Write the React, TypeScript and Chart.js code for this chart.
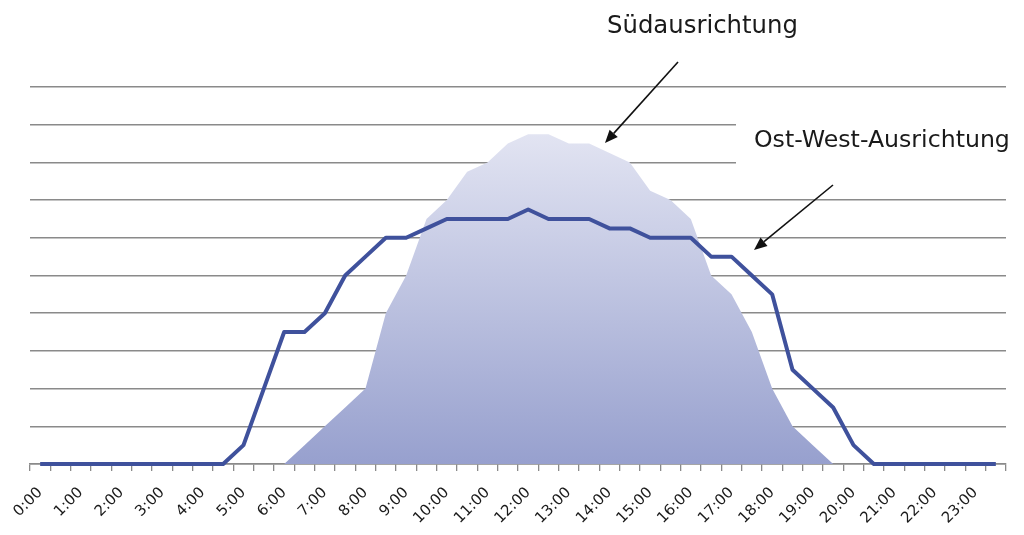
import React, { useEffect, useRef } from "react";
import { Chart, registerables } from "chart.js";

Chart.register(...registerables);

// Half-hour slots of one day
const timeSlots: string[] = [
  "0:00", "0:30", "1:00", "1:30", "2:00", "2:30", "3:00", "3:30",
  "4:00", "4:30", "5:00", "5:30", "6:00", "6:30", "7:00", "7:30",
  "8:00", "8:30", "9:00", "9:30", "10:00", "10:30", "11:00", "11:30",
  "12:00", "12:30", "13:00", "13:30", "14:00", "14:30", "15:00", "15:30",
  "16:00", "16:30", "17:00", "17:30", "18:00", "18:30", "19:00", "19:30",
  "20:00", "20:30", "21:00", "21:30", "22:00", "22:30", "23:00", "23:30",
];

// South-facing yield (area)
const suedValues: number[] = [
  0, 0, 0, 0, 0, 0, 0, 0,
  0, 0, 0, 0, 0, 0.5, 1.0, 1.5,
  2.0, 4.0, 5.0, 6.5, 7.0, 7.75, 8.0, 8.5,
  8.75, 8.75, 8.5, 8.5, 8.25, 8.0, 7.25, 7.0,
  6.5, 5.0, 4.5, 3.5, 2.0, 1.0, 0.5, 0,
  0, 0, 0, 0, 0, 0, 0, 0,
];

// East-west-facing yield (line)
const ostWestValues: number[] = [
  0, 0, 0, 0, 0, 0, 0, 0,
  0, 0, 0.5, 2.0, 3.5, 3.5, 4.0, 5.0,
  5.5, 6.0, 6.0, 6.25, 6.5, 6.5, 6.5, 6.5,
  6.75, 6.5, 6.5, 6.5, 6.25, 6.25, 6.0, 6.0,
  6.0, 5.5, 5.5, 5.0, 4.5, 2.5, 2.0, 1.5,
  0.5, 0, 0, 0, 0, 0, 0, 0,
];

const yMin = 0;
const yMax = 10;
const yStep = 1;

const labelSued = "Südausrichtung";
const labelOstWest = "Ost-West-Ausrichtung";

function drawArrow(ctx: CanvasRenderingContext2D, x1: number, y1: number, x2: number, y2: number) {
  const ang = Math.atan2(y2 - y1, x2 - x1);
  const headLen = 13;
  const headHalf = 5.5;
  const bx = x2 - headLen * Math.cos(ang);
  const by = y2 - headLen * Math.sin(ang);
  ctx.beginPath();
  ctx.moveTo(x1, y1);
  ctx.lineTo(bx, by);
  ctx.strokeStyle = "#111";
  ctx.lineWidth = 1.6;
  ctx.stroke();
  ctx.beginPath();
  ctx.moveTo(x2, y2);
  ctx.lineTo(bx + headHalf * Math.sin(ang), by - headHalf * Math.cos(ang));
  ctx.lineTo(bx - headHalf * Math.sin(ang), by + headHalf * Math.cos(ang));
  ctx.closePath();
  ctx.fillStyle = "#111";
  ctx.fill();
}

function fitText(ctx: CanvasRenderingContext2D, text: string, x: number, y: number, width: number) {
  ctx.font = '24px "DejaVu Sans"';
  const w = ctx.measureText(text).width;
  const size = (24 * width) / w;
  ctx.font = `${size}px "DejaVu Sans"`;
  ctx.fillText(text, x, y);
}

const annotationPlugin = {
  id: "annotations",
  afterDraw(chart: any) {
    const ctx: CanvasRenderingContext2D = chart.ctx;
    ctx.save();
    ctx.fillStyle = "#ffffff";
    ctx.fillRect(736, 106, 288, 72);
    ctx.fillStyle = "#1a1a1a";
    ctx.textAlign = "left";
    ctx.textBaseline = "alphabetic";
    fitText(ctx, labelSued, 607, 33, 191);
    fitText(ctx, labelOstWest, 754, 147, 256);
    drawArrow(ctx, 678, 62, 605, 143);
    drawArrow(ctx, 833, 185, 754, 250);
    ctx.restore();
  },
};

export default function App() {
  const canvasRef = useRef<HTMLCanvasElement | null>(null);

  useEffect(() => {
    if (!canvasRef.current) return;
    const chart = new Chart(canvasRef.current, {
      type: "line",
      data: {
        labels: timeSlots,
        datasets: [
          {
            label: labelOstWest,
            data: ostWestValues,
            borderColor: "#3f519c",
            borderWidth: 4,
            pointRadius: 0,
            tension: 0,
            fill: false,
            order: 0,
            clip: false as any,
            borderJoinStyle: "round",
          },
          {
            label: labelSued,
            data: suedValues,
            borderWidth: 0,
            borderColor: "rgba(0,0,0,0)",
            pointRadius: 0,
            tension: 0,
            fill: "origin",
            order: 1,
            backgroundColor: (c: any) => {
              const ch = c.chart;
              if (!ch.chartArea) return "#b8bedf";
              const ys = ch.scales.y;
              const top = ys.getPixelForValue(Math.max(...suedValues));
              const bottom = ys.getPixelForValue(0);
              const g = ch.ctx.createLinearGradient(0, top, 0, bottom);
              g.addColorStop(0, "#e2e4f2");
              g.addColorStop(1, "#97a0ce");
              return g;
            },
          },
        ],
      },
      options: {
        responsive: false,
        animation: false,
        layout: { padding: { left: 30, right: 18, top: 87, bottom: 0 } },
        plugins: {
          legend: { display: false },
          tooltip: { enabled: false },
          title: { display: false },
        },
        scales: {
          x: {
            type: "category",
            offset: true,
            grid: {
              offset: true,
              drawOnChartArea: false,
              drawTicks: true,
              tickLength: 7,
              color: "#8a8a8a",
              lineWidth: 1.3,
            },
            border: { display: true, color: "#8a8a8a", width: 1.5 },
            ticks: {
              autoSkip: false,
              minRotation: 45,
              maxRotation: 45,
              padding: 13,
              color: "#1a1a1a",
              font: { family: "DejaVu Sans", size: 15 },
              callback: (_v: any, i: number) => (i % 2 === 0 ? timeSlots[i] : ""),
            },
            afterFit: (s: any) => {
              s.height = 71;
            },
          },
          y: {
            min: yMin,
            max: yMax,
            ticks: { display: false, stepSize: yStep },
            grid: { drawTicks: false, color: "#8a8a8a", lineWidth: 1.5 },
            border: { display: false },
            afterFit: (s: any) => {
              s.width = 0;
            },
          },
        },
      },
      plugins: [annotationPlugin],
    });
    return () => chart.destroy();
  }, []);

  return (
    <div style={{ position: "fixed", left: 0, top: 0, width: 1024, height: 535, background: "#fff" }}>
      <canvas ref={canvasRef} width={1024} height={535} style={{ width: 1024, height: 535, display: "block" }} />
    </div>
  );
}
